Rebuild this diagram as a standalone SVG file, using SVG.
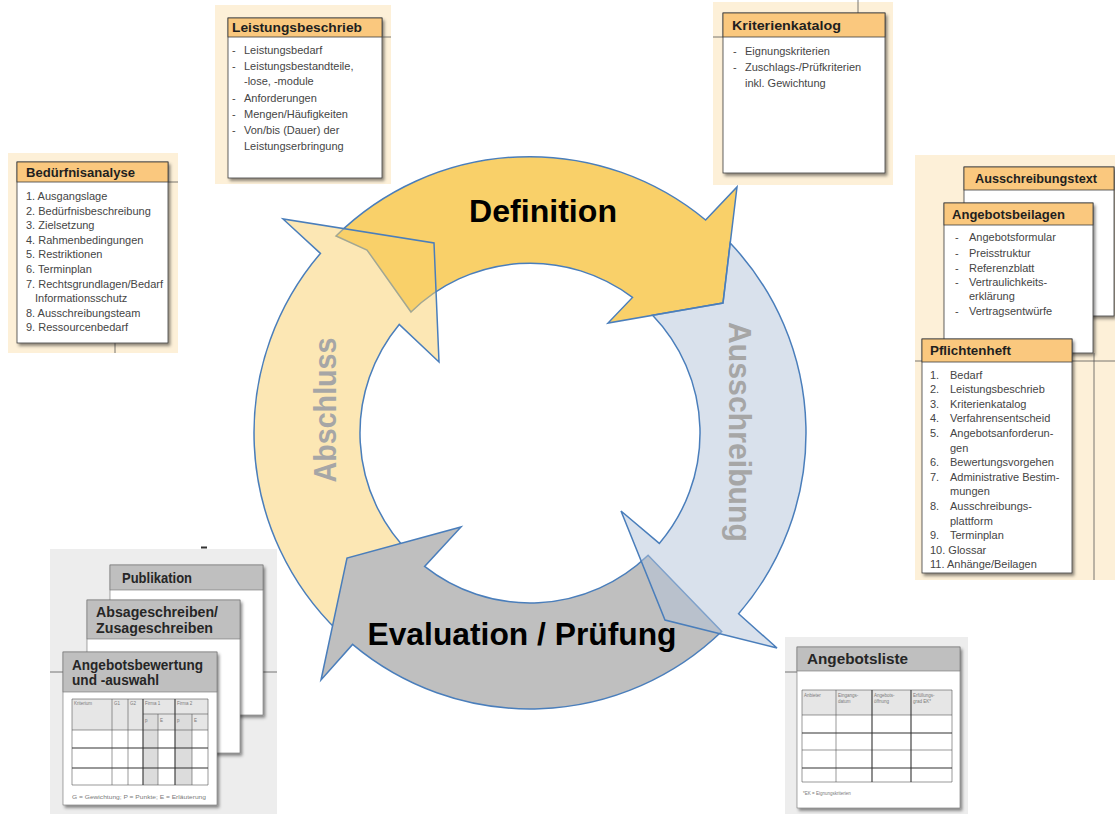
<svg xmlns="http://www.w3.org/2000/svg" width="1115" height="814" viewBox="0 0 1115 814">
<defs>
<filter id="sh" x="-10%" y="-10%" width="130%" height="130%"><feDropShadow dx="2" dy="2.5" stdDeviation="1.5" flood-color="#000" flood-opacity="0.45"/></filter>
<style>
.bg{fill:#FDF0D8}
.gbg{fill:#EDEDED}
.card{fill:#fff;stroke:#3c3c3c;stroke-width:0.8;filter:url(#sh)}
.gcard{fill:#fff;stroke:#707070;stroke-width:0.6;filter:url(#sh)}
.hdr{fill:#FAC87E;stroke:#3c3c3c;stroke-width:0.8}
.ghdr{fill:#BFBFBF;stroke:#707070;stroke-width:0.6}
.ht{font-family:"Liberation Sans",Arial,sans-serif;font-weight:bold;font-size:13px;fill:#1f1f1f}
.gt{font-family:"Liberation Sans",Arial,sans-serif;font-weight:bold;font-size:14px;fill:#262626}
.it{font-family:"Liberation Sans",Arial,sans-serif;font-size:11px;fill:#454545}
.ln{stroke:#555;stroke-width:0.8;fill:none}
.tl{stroke:#555;stroke-width:0.6;fill:none}
.tk{stroke:#333;stroke-width:1.1;fill:none}
.tiny{font-family:"Liberation Sans",Arial,sans-serif;font-size:4.5px;fill:#7a7a7a}
.arr{stroke:#4A7EBB;stroke-width:1.5;stroke-linejoin:miter}
.big{font-family:"Liberation Sans",Arial,sans-serif;font-weight:bold;font-size:32px}
.rot{font-family:"Liberation Sans",Arial,sans-serif;font-weight:bold;font-size:32px;fill:#A6A6A6}
</style>
</defs>
<rect width="1115" height="814" fill="#fff"/>

<g id="connectors">
  <g id="arrow-definition">
    <path class="arr" fill="#F9D069" d="M336,236 A276,276 0 0 1 705.6,220 L737,187 L723,303 L608,323 L632.5,297.4 A170,170 0 0 0 411,312 L367,250 Z"/>
    <text class="big" x="543" y="222" text-anchor="middle" textLength="148" lengthAdjust="spacingAndGlyphs" fill="#000">Definition</text>
  </g>
  <g id="arrow-abschluss">
    <path class="arr" fill="#F9D069" fill-opacity="0.5" d="M338.3,631.5 A276,276 0 0 1 320.4,253.4 L283,219 L434,243 L439,362 L399.2,324.4 A170,170 0 0 0 411.9,555.3 Z"/>
    <text class="rot" transform="translate(336,410) rotate(-90)" text-anchor="middle" textLength="145" lengthAdjust="spacingAndGlyphs">Abschluss</text>
  </g>
  <g id="arrow-evaluation">
    <path class="arr" fill="#BFBFBF" d="M721.7,631.5 A276,276 0 0 1 352.6,644.4 L321,680 L347,558 L461,527 L424.6,566.4 A170,170 0 0 0 648.1,555.3 Z"/>
    <text class="big" x="522" y="645" text-anchor="middle" textLength="309" lengthAdjust="spacingAndGlyphs" fill="#000">Evaluation / Prüfung</text>
  </g>
  <g id="arrow-ausschreibung">
    <path class="arr" fill="#B3C3D9" fill-opacity="0.5" d="M730.2,243 A276,276 0 0 1 738.6,613.7 L777,648 L665,620 L621,511 L659.3,543.4 A170,170 0 0 0 652.6,315.2 L723,303 Z"/>
    <text class="rot" transform="translate(729,432) rotate(90)" text-anchor="middle" textLength="220" lengthAdjust="spacingAndGlyphs">Ausschreibung</text>
  </g>
</g>

<g id="leistungsbeschrieb">
  <rect class="bg" x="215" y="5" width="176" height="179"/>
  <rect class="card" x="228" y="18" width="154" height="160"/>
  <rect class="hdr" x="228" y="18" width="154" height="19"/>
  <line class="ln" x1="382" y1="37" x2="391" y2="37"/>
  <text class="ht" x="232" y="32" textLength="130" lengthAdjust="spacingAndGlyphs">Leistungsbeschrieb</text>
  <g class="it">
    <text x="232" y="54">-</text><text x="244" y="54">Leistungsbedarf</text>
    <text x="232" y="70">-</text><text x="244" y="70">Leistungsbestandteile,</text>
    <text x="244" y="85">-lose, -module</text>
    <text x="232" y="102">-</text><text x="244" y="102">Anforderungen</text>
    <text x="232" y="118">-</text><text x="244" y="118">Mengen/Häufigkeiten</text>
    <text x="232" y="134">-</text><text x="244" y="134">Von/bis (Dauer) der</text>
    <text x="244" y="150">Leistungserbringung</text>
  </g>
</g>

<g id="kriterienkatalog">
  <rect class="bg" x="713" y="2" width="180" height="183"/>
  <line class="ln" x1="858" y1="0" x2="858" y2="13"/>
  <line class="ln" x1="713" y1="37" x2="723" y2="37"/>
  <rect class="card" x="723" y="13" width="162" height="160"/>
  <rect class="hdr" x="723" y="13" width="162" height="24"/>
  <text class="ht" x="732" y="30" textLength="109" lengthAdjust="spacingAndGlyphs">Kriterienkatalog</text>
  <g class="it">
    <text x="733" y="55">-</text><text x="745" y="55">Eignungskriterien</text>
    <text x="733" y="71">-</text><text x="745" y="71">Zuschlags-/Prüfkriterien</text>
    <text x="745" y="87">inkl. Gewichtung</text>
  </g>
</g>

<g id="beduerfnisanalyse">
  <rect class="bg" x="8" y="153" width="170" height="200"/>
  <line class="ln" x1="168" y1="182" x2="178" y2="182"/>
  <line class="ln" x1="115" y1="343" x2="115" y2="353"/>
  <rect class="card" x="17" y="162" width="151" height="181"/>
  <rect class="hdr" x="17" y="162" width="151" height="20"/>
  <text class="ht" x="26" y="177" textLength="109" lengthAdjust="spacingAndGlyphs">Bedürfnisanalyse</text>
  <g class="it">
    <text x="26" y="200">1. Ausgangslage</text>
    <text x="26" y="214.6">2. Bedürfnisbeschreibung</text>
    <text x="26" y="229.2">3. Zielsetzung</text>
    <text x="26" y="243.8">4. Rahmenbedingungen</text>
    <text x="26" y="258.4">5. Restriktionen</text>
    <text x="26" y="273">6. Terminplan</text>
    <text x="26" y="287.6">7. Rechtsgrundlagen/Bedarf</text>
    <text x="35" y="302.2">Informationsschutz</text>
    <text x="26" y="316.8">8. Ausschreibungsteam</text>
    <text x="26" y="331.4">9. Ressourcenbedarf</text>
  </g>
</g>

<g id="ausschreibungsunterlagen">
  <rect class="bg" x="915" y="155" width="200" height="425"/>
  <g id="ausschreibungstext">
    <rect class="card" x="964" y="167" width="150" height="149"/>
    <rect class="hdr" x="964" y="167" width="150" height="23"/>
    <text class="ht" x="975" y="183" textLength="122" lengthAdjust="spacingAndGlyphs">Ausschreibungstext</text>
  </g>
  <g id="angebotsbeilagen">
    <rect class="card" x="944" y="203" width="149" height="150"/>
    <rect class="hdr" x="944" y="203" width="149" height="22"/>
    <text class="ht" x="952" y="219" textLength="113" lengthAdjust="spacingAndGlyphs">Angebotsbeilagen</text>
    <g class="it">
      <text x="955" y="241">-</text><text x="969" y="241">Angebotsformular</text>
      <text x="955" y="256.5">-</text><text x="969" y="256.5">Preisstruktur</text>
      <text x="955" y="271.5">-</text><text x="969" y="271.5">Referenzblatt</text>
      <text x="955" y="286">-</text><text x="969" y="286">Vertraulichkeits-</text>
      <text x="969" y="300">erklärung</text>
      <text x="955" y="315">-</text><text x="969" y="315">Vertragsentwürfe</text>
    </g>
  </g>
  <line class="ln" x1="1094" y1="353" x2="1094" y2="580"/>
  <line class="ln" x1="915" y1="361" x2="922" y2="361"/>
  <line class="ln" x1="1072" y1="361" x2="1115" y2="361"/>
  <g id="pflichtenheft">
    <rect class="card" x="922" y="339" width="150" height="234"/>
    <rect class="hdr" x="922" y="339" width="150" height="23"/>
    <text class="ht" x="930" y="355" textLength="81" lengthAdjust="spacingAndGlyphs">Pflichtenheft</text>
    <g class="it">
      <text x="930" y="378.5">1.</text><text x="950" y="378.5">Bedarf</text>
      <text x="930" y="393.1">2.</text><text x="950" y="393.1">Leistungsbeschrieb</text>
      <text x="930" y="407.7">3.</text><text x="950" y="407.7">Kriterienkatalog</text>
      <text x="930" y="422.3">4.</text><text x="950" y="422.3">Verfahrensentscheid</text>
      <text x="930" y="436.9">5.</text><text x="950" y="436.9">Angebotsanforderun-</text>
      <text x="950" y="451.5">gen</text>
      <text x="930" y="466.1">6.</text><text x="950" y="466.1">Bewertungsvorgehen</text>
      <text x="930" y="480.7">7.</text><text x="950" y="480.7">Administrative Bestim-</text>
      <text x="950" y="495.3">mungen</text>
      <text x="930" y="509.9">8.</text><text x="950" y="509.9">Ausschreibungs-</text>
      <text x="950" y="524.5">plattform</text>
      <text x="930" y="539.1">9.</text><text x="950" y="539.1">Terminplan</text>
      <text x="930" y="553.7">10. Glossar</text>
      <text x="930" y="568.3">11. Anhänge/Beilagen</text>
    </g>
  </g>
</g>

<g id="abschlussdokumente">
  <rect class="gbg" x="50" y="549" width="227" height="265"/>
  <line x1="201" y1="547.5" x2="207" y2="547.5" stroke="#333" stroke-width="2"/>
  <line class="ln" x1="50" y1="672" x2="63" y2="672"/>
  <line class="ln" x1="217" y1="672" x2="277" y2="672"/>
  <g id="publikation">
    <rect class="gcard" x="110" y="565" width="153" height="150"/>
    <rect class="ghdr" x="110" y="565" width="153" height="25"/>
    <text class="gt" x="122" y="583" textLength="70" lengthAdjust="spacingAndGlyphs">Publikation</text>
  </g>
  <g id="absageschreiben">
    <rect class="gcard" x="87" y="600" width="153" height="153"/>
    <rect class="ghdr" x="87" y="600" width="153" height="39"/>
    <text class="gt" x="96" y="617" textLength="122" lengthAdjust="spacingAndGlyphs">Absageschreiben/</text>
    <text class="gt" x="96" y="633" textLength="117" lengthAdjust="spacingAndGlyphs">Zusageschreiben</text>
  </g>
  <g id="angebotsbewertung">
    <rect class="gcard" x="63" y="652" width="154" height="153"/>
    <rect class="ghdr" x="63" y="652" width="154" height="40"/>
    <text class="gt" x="72" y="670" textLength="131" lengthAdjust="spacingAndGlyphs">Angebotsbewertung</text>
    <text class="gt" x="72" y="685" textLength="87" lengthAdjust="spacingAndGlyphs">und -auswahl</text>
    <rect x="72" y="699" width="136" height="31" fill="#E6E6E6"/>
    <rect x="143" y="714" width="15" height="71" fill="#DCDCDC"/>
    <rect x="175" y="714" width="17" height="71" fill="#DCDCDC"/>
    <path class="tl" d="M72,699 H208 M143,714 H208 M72,730 H208 M72,785 H208 M72,699 V785 M112,699 V785 M128,699 V785 M158,714 V785 M192,714 V785 M208,699 V785"/>
    <path class="tk" d="M72,748 H208 M72,768 H208 M143,699 V785 M175,699 V785"/>
    <g class="tiny">
      <text x="74" y="705">Kriterium</text>
      <text x="114" y="705">G1</text>
      <text x="130" y="705">G2</text>
      <text x="145" y="705">Firma 1</text>
      <text x="177" y="705">Firma 2</text>
      <text x="145" y="722">p</text>
      <text x="160" y="722">E</text>
      <text x="177" y="722">p</text>
      <text x="194" y="722">E</text>
      <text x="72" y="799" textLength="134" lengthAdjust="spacingAndGlyphs">G = Gewichtung; P = Punkte; E = Erläuterung</text>
    </g>
  </g>
</g>

<g id="angebotsliste">
  <rect class="gbg" x="785" y="637" width="183" height="177"/>
  <line class="ln" x1="785" y1="672" x2="797" y2="672"/>
  <rect class="gcard" x="797" y="647" width="163" height="161"/>
  <rect class="ghdr" x="797" y="647" width="163" height="24"/>
  <text class="gt" x="807" y="664" textLength="101" lengthAdjust="spacingAndGlyphs">Angebotsliste</text>
  <rect x="802" y="690" width="150" height="25" fill="#E6E6E6"/>
  <path class="tl" d="M802,690 H952 M802,715 H952 M802,750 H952 M802,782 H952 M802,690 V782 M836,690 V782 M952,690 V782"/>
  <path class="tk" d="M802,733 H952 M802,768 H952 M872,690 V782 M911,690 V782"/>
  <g class="tiny">
    <text x="804" y="697">Anbieter</text>
    <text x="838" y="697">Eingangs-</text><text x="838" y="703">datum</text>
    <text x="874" y="697">Angebots-</text><text x="874" y="703">öffnung</text>
    <text x="913" y="697">Erfüllungs-</text><text x="913" y="703">grad EK*</text>
    <text x="803" y="795">*EK = Eignungskriterien</text>
  </g>
</g>
</svg>
